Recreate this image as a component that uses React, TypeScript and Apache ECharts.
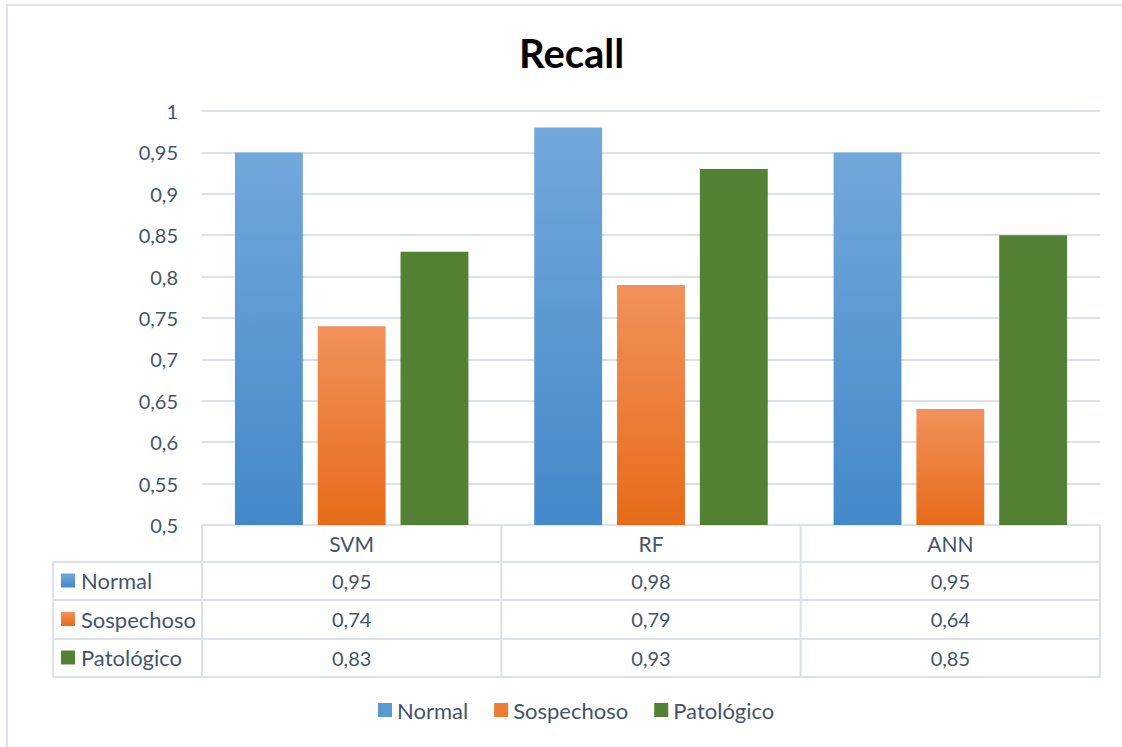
import React, { useEffect, useRef } from "react";
import * as echarts from "echarts";

const categories = ["SVM", "RF", "ANN"];
const seriesNames = ["Normal", "Sospechoso", "Patológico"];
const normal = [0.95, 0.98, 0.95];
const sospechoso = [0.74, 0.79, 0.64];
const patologico = [0.83, 0.93, 0.85];
const seriesValues = [normal, sospechoso, patologico];
const yMin = 0.5;
const yMax = 1;
const yStep = 0.05;

const FONT = "Lato, 'Open Sans', sans-serif";
const TEXT = "#44546A";
const LINE = "#dde2e8";
const WORD_SIZE = 22;
const NUM_SIZE = 20;

const colors = [
  new echarts.graphic.LinearGradient(0, 0, 0, 1, [
    { offset: 0, color: "#72a7db" },
    { offset: 1, color: "#4389c9" },
  ]),
  new echarts.graphic.LinearGradient(0, 0, 0, 1, [
    { offset: 0, color: "#f1915b" },
    { offset: 1, color: "#e76b19" },
  ]),
  new echarts.graphic.LinearGradient(0, 0, 0, 1, [
    { offset: 0, color: "#548235" },
    { offset: 1, color: "#538134" },
  ]),
];
const legendColors = ["#5b9bd5", "#ed7d31", "#548235"];

const fmt = (v: number) => String(+v.toFixed(2)).replace(".", ",");

export default function App() {
  const ref = useRef<HTMLDivElement>(null);
  useEffect(() => {
    document.body.style.margin = "0";
    const chart = echarts.init(ref.current!, null, { renderer: "svg" });

    const gridLeft = 202;
    const gridRight = 1100;
    const gridTop = 111;
    const gridBottom = 525;
    const tableLeft = 53;
    const rowYs = [525, 562, 600, 639, 677];
    const colW = (gridRight - gridLeft) / categories.length;

    const graphics: any[] = [];
    graphics.push({
      type: "rect",
      shape: { x: 7, y: 5, width: 1200, height: 800 },
      style: { fill: "none", stroke: "#dfe3e8", lineWidth: 2 },
      silent: true,
    });
    rowYs.forEach((y, i) => {
      if (i === 0) return;
      graphics.push({
        type: "line",
        shape: { x1: tableLeft, y1: y, x2: gridRight, y2: y },
        style: { stroke: LINE, lineWidth: 2 },
      });
    });
    for (let c = 0; c <= categories.length; c++) {
      const x = gridLeft + c * colW;
      graphics.push({
        type: "line",
        shape: { x1: x, y1: rowYs[0], x2: x, y2: rowYs[4] },
        style: { stroke: LINE, lineWidth: 2 },
      });
    }
    graphics.push({
      type: "line",
      shape: { x1: tableLeft, y1: rowYs[1], x2: tableLeft, y2: rowYs[4] },
      style: { stroke: LINE, lineWidth: 2 },
    });
    seriesNames.forEach((name, r) => {
      const cy = (rowYs[r + 1] + rowYs[r + 2]) / 2 - 0.5;
      graphics.push({
        type: "rect",
        shape: { x: 61, y: cy - 7, width: 14, height: 14 },
        style: { fill: colors[r] },
      });
      graphics.push({
        type: "text",
        x: 81,
        y: cy,
        style: {
          text: name,
          font: `${WORD_SIZE}px ${FONT}`,
          fill: TEXT,
          textAlign: "left",
          textVerticalAlign: "middle",
        },
      });
      categories.forEach((_, c) => {
        graphics.push({
          type: "text",
          x: gridLeft + (c + 0.5) * colW,
          y: cy,
          style: {
            text: fmt(seriesValues[r][c]),
            font: `${NUM_SIZE}px ${FONT}`,
            fill: TEXT,
            textAlign: "center",
            textVerticalAlign: "middle",
          },
        });
      });
    });

    chart.setOption({
      animation: false,
      backgroundColor: "#fff",
      title: {
        text: "Recall",
        left: 514,
        top: 28,
        textStyle: { fontFamily: FONT, fontWeight: "bold", fontSize: 40, color: "#000" },
      },
      legend: {
        bottom: 21,
        left: 373,
        icon: "rect",
        itemWidth: 14,
        itemHeight: 14,
        itemGap: 26,
        textStyle: { fontFamily: FONT, fontSize: WORD_SIZE, color: TEXT },
        data: seriesNames.map((n, i) => ({ name: n, itemStyle: { color: legendColors[i] } })),
      },
      grid: {
        left: gridLeft,
        right: 1122 - gridRight,
        top: gridTop,
        bottom: 747 - gridBottom,
        containLabel: false,
      },
      xAxis: {
        type: "category",
        data: categories,
        axisLine: { show: true, lineStyle: { color: LINE, width: 2 } },
        axisTick: { show: false },
        axisLabel: { fontFamily: FONT, fontSize: WORD_SIZE - 1, color: TEXT, margin: 8 },
      },
      yAxis: {
        type: "value",
        min: yMin,
        max: yMax,
        interval: yStep,
        axisLine: { show: false },
        axisTick: { show: false },
        splitLine: { lineStyle: { color: LINE, width: 2 } },
        axisLabel: {
          fontFamily: FONT,
          fontSize: NUM_SIZE,
          color: TEXT,
          margin: 24,
          formatter: (v: number) => fmt(v),
        },
      },
      series: seriesNames.map((n, i) => ({
        name: n,
        type: "bar",
        data: seriesValues[i],
        barGap: "22%",
        barCategoryGap: "22%",
        itemStyle: { color: colors[i] },
      })),
      graphic: graphics,
    });
    return () => chart.dispose();
  }, []);
  return <div ref={ref} style={{ width: 1122, height: 747 }} />;
}
